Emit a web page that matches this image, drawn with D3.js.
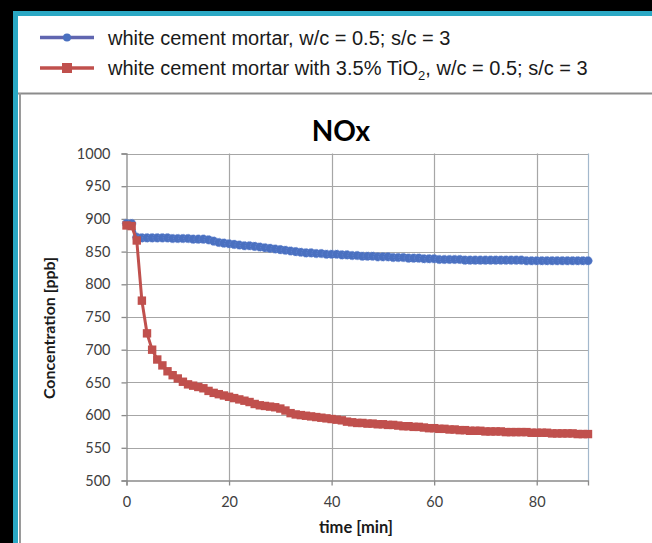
<!DOCTYPE html>
<html><head><meta charset="utf-8">
<script src="https://cdn.jsdelivr.net/npm/d3@7"></script>
<style>body{margin:0;background:#000;overflow:hidden}svg{display:block}</style>
</head><body>
<svg id="c" width="652" height="543"></svg>
<script>
const times = d3.range(0, 91);
const plainMortar = [893,893,872,871,871,871,871,871,871,870,870,870,870,869,869,869,868,866,864,863,
 862,861,860,859,859,858,857,856,855,854,853,852,851,850,849,848,848,847,847,846,
 846,846,845,845,844,844,843,843,843,842,842,842,841,841,841,840,840,840,839,839,
 839,838,838,838,838,838,837,837,837,837,837,837,837,837,837,837,837,837,836,836,
 836,836,836,836,836,836,836,836,836,836,836];
const tio2Mortar = [890,889,867,775,725,700,685,676,667,661,656,651,647,645,643,641,637,634,632,630,
 628,626,624,622,620,617,615,614,613,612,610,607,603,601,600,599,598,597,596,595,
 594,593,592,590,589,588,588,587,587,586,586,585,585,584,583,583,582,582,581,580,
 580,579,579,578,578,577,577,576,576,576,575,575,575,575,574,574,574,574,574,573,
 573,573,573,572,572,572,572,572,571,571,571];
const yTicks = [500,550,600,650,700,750,800,850,900,950,1000];
const xTicks = [0,20,40,60,80];
const titleText = "NOx";
const xTitle = "time [min]";
const yTitle = "Concentration [ppb]";

const svg = d3.select("#c");
svg.append("rect").attr("x",0).attr("y",0).attr("width",652).attr("height",543).attr("fill","#000");
svg.append("rect").attr("x",13).attr("y",11).attr("width",639).attr("height",532).attr("fill","#2aa8c4");
svg.append("rect").attr("x",18).attr("y",16).attr("width",634).attr("height",527).attr("fill","#fff");
svg.append("line").attr("x1",18).attr("x2",652).attr("y1",93.5).attr("y2",93.5).attr("stroke","#8c8c8c").attr("stroke-width",2);
svg.append("line").attr("x1",20).attr("x2",20).attr("y1",93).attr("y2",543).attr("stroke","#9a9a9a").attr("stroke-width",2);

const blue = "#4a70c0", red = "#c0504d";

const lg = svg.append("g");
const legendItems = [
  {color:"#6066b0", mcolor:"#4a70c0", shape:"circle", y:37.5, parts:[["white cement mortar, w/c = 0.5; s/c = 3",false]]},
  {color:red, mcolor:red, shape:"square", y:68, parts:[["white cement mortar with 3.5% TiO",false],["2",true],[", w/c = 0.5; s/c = 3",false]]}
];
legendItems.forEach(it=>{
  lg.append("line").attr("x1",40).attr("x2",94).attr("y1",it.y).attr("y2",it.y).attr("stroke",it.color).attr("stroke-width",3.5);
  if(it.shape==="circle") lg.append("circle").attr("cx",67).attr("cy",it.y).attr("r",4).attr("fill",it.mcolor);
  else lg.append("rect").attr("x",62).attr("y",it.y-5).attr("width",10).attr("height",10).attr("fill",it.mcolor);
  const t = lg.append("text").attr("x",108).attr("y",it.y+7).attr("font-family","Liberation Sans, Arial, sans-serif").attr("font-size",20).attr("fill","#1a1a1a");
  it.parts.forEach(p=>{
    const ts = t.append("tspan").text(p[0]);
    if(p[1]) ts.attr("font-size",13).attr("dy",5);
    else if(t.selectAll("tspan").size()>1) ts.attr("dy",-5);
  });
});

const L=126.5, R=588, T=153.5, B=480.5;
const x = d3.scaleLinear().domain([0,90]).range([L,R]);
const y = d3.scaleLinear().domain([500,1000]).range([B,T]);
const font = "Lato, 'Open Sans', sans-serif";

const g = svg.append("g");
g.selectAll(".hg").data(yTicks.filter(d=>d>500)).join("line")
  .attr("x1",L).attr("x2",R).attr("y1",d=>Math.round(y(d))+0.5).attr("y2",d=>Math.round(y(d))+0.5)
  .attr("stroke","#a6a6a6").attr("stroke-width",1.2);
g.selectAll(".vg").data(xTicks.filter(d=>d>0)).join("line")
  .attr("x1",d=>Math.round(x(d))+0.5).attr("x2",d=>Math.round(x(d))+0.5).attr("y1",T).attr("y2",B)
  .attr("stroke","#a6a6a6").attr("stroke-width",1.2);
g.append("line").attr("x1",R+0.5).attr("x2",R+0.5).attr("y1",T).attr("y2",B).attr("stroke","#a3b8cc").attr("stroke-width",1.2);

const ya = svg.append("g").attr("transform",`translate(${L},0)`)
  .call(d3.axisLeft(y).tickValues(yTicks).tickFormat(d3.format("d")).tickSize(5).tickPadding(11));
const xa = svg.append("g").attr("transform",`translate(0,${B})`)
  .call(d3.axisBottom(x).tickValues(xTicks).tickFormat(d3.format("d")).tickSize(5).tickPadding(11));
[ya,xa].forEach(a=>{
  a.select(".domain").attr("stroke","#8a8a8a").attr("stroke-width",1.3);
  a.selectAll(".tick line").attr("stroke","#8a8a8a").attr("stroke-width",1.3);
  a.selectAll(".tick text").attr("font-family",font).attr("font-size",14.5).attr("fill","#404040");
});

const line = d3.line().x((d,i)=>x(times[i])).y(d=>y(d));
svg.append("path").datum(plainMortar).attr("d",line).attr("fill","none").attr("stroke",blue).attr("stroke-width",3);
svg.append("g").selectAll("circle").data(plainMortar).join("circle")
  .attr("cx",(d,i)=>x(times[i])).attr("cy",d=>y(d)).attr("r",4.3).attr("fill",blue).attr("stroke","#6f8fd6").attr("stroke-width",0.6).attr("stroke-dasharray","1.5,1");
svg.append("path").datum(tio2Mortar).attr("d",line).attr("fill","none").attr("stroke",red).attr("stroke-width",3);
svg.append("g").selectAll("rect").data(tio2Mortar).join("rect")
  .attr("x",(d,i)=>x(times[i])-4.2).attr("y",d=>y(d)-4.2).attr("width",8.4).attr("height",8.4).attr("fill",red);

svg.append("text").attr("x",341).attr("y",141).attr("text-anchor","middle").attr("font-family",font).attr("font-weight","bold").attr("font-size",28).attr("fill","#000").text(titleText);
svg.append("text").attr("x",356).attr("y",533).attr("text-anchor","middle").attr("font-family",font).attr("font-weight","bold").attr("font-size",16.5).attr("fill","#1a1a1a").text(xTitle);
svg.append("text").attr("transform","translate(55,328) rotate(-90)").attr("text-anchor","middle").attr("font-family",font).attr("font-weight","bold").attr("font-size",16).attr("fill","#1a1a1a").text(yTitle);
</script>
</body></html>
